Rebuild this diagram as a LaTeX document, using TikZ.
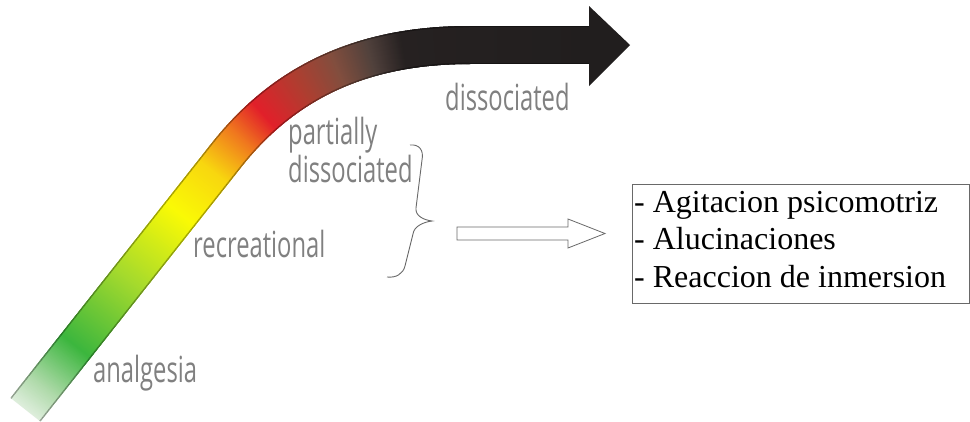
\documentclass[tikz,border=0pt]{standalone}
\usepackage{fontspec}
\setmainfont{Liberation Serif}
\newfontfamily\lblfont[FakeStretch=0.66]{Open Sans}
\usetikzlibrary{decorations.markings,calc}
\definecolor{k0}{RGB}{222,238,220}
\definecolor{k1}{RGB}{175,218,170}
\definecolor{k2}{RGB}{60,182,62}
\definecolor{k3}{RGB}{165,218,45}
\definecolor{k4}{RGB}{250,250,5}
\definecolor{k5}{RGB}{248,215,15}
\definecolor{k6}{RGB}{240,120,30}
\definecolor{k7}{RGB}{226,32,42}
\definecolor{k8}{RGB}{175,62,48}
\definecolor{k9}{RGB}{130,78,62}
\definecolor{k10}{RGB}{80,65,60}
\definecolor{k11}{RGB}{38,33,33}
\definecolor{k12}{RGB}{33,30,30}
\definecolor{lblgray}{RGB}{128,128,128}
\definecolor{linegray}{RGB}{105,105,105}
\newcommand\mixstop[4]{\pgfmathsetmacro\bandpct{max(0,min(100,100*(\bandpos-#1)/(#2-#1)))}\colorlet{bandc}{#4!\bandpct!#3}}
\newcommand\setbandcolor{%
 \ifdim\bandpos pt<0.04pt \mixstop{0}{0.04}{k0}{k1}\else
 \ifdim\bandpos pt<0.112pt \mixstop{0.04}{0.112}{k1}{k2}\else
 \ifdim\bandpos pt<0.23pt \mixstop{0.112}{0.23}{k2}{k3}\else
 \ifdim\bandpos pt<0.345pt \mixstop{0.23}{0.345}{k3}{k4}\else
 \ifdim\bandpos pt<0.42pt \mixstop{0.345}{0.42}{k4}{k5}\else
 \ifdim\bandpos pt<0.48pt \mixstop{0.42}{0.48}{k5}{k6}\else
 \ifdim\bandpos pt<0.525pt \mixstop{0.48}{0.525}{k6}{k7}\else
 \ifdim\bandpos pt<0.59pt \mixstop{0.525}{0.59}{k7}{k8}\else
 \ifdim\bandpos pt<0.645pt \mixstop{0.59}{0.645}{k8}{k9}\else
 \ifdim\bandpos pt<0.695pt \mixstop{0.645}{0.695}{k9}{k10}\else
 \ifdim\bandpos pt<0.74pt \mixstop{0.695}{0.74}{k10}{k11}\else
 \mixstop{0.74}{1}{k11}{k12}%
 \fi\fi\fi\fi\fi\fi\fi\fi\fi\fi\fi}
\newcommand\bandpiece{%
 \pgfmathsetmacro\bandpos{\pgfkeysvalueof{/pgf/decoration/mark info/distance from start}/\pgfdecoratedpathlength}%
 \setbandcolor
 \fill[bandc] (-0.9,-19) rectangle (0.9,19);
 \fill[bandc!62!black] (-0.9,-19) rectangle (0.9,-17.8);
 \fill[bandc!62!black] (-0.9,17.8) rectangle (0.9,19);
}
\tikzset{
 bandmark/.style={decorate,decoration={markings,mark=between positions 0 and 1 step 1pt with {\bandpiece}}},
 lbl/.style={font=\lblfont\fontsize{36}{30}\selectfont, text=lblgray, inner sep=0pt, anchor=base west},
 thinline/.style={draw=linegray, line width=0.9pt},
}
\begin{document}
\begin{tikzpicture}[x=1pt,y=-1pt]
\useasboundingbox (0,0) rectangle (970,421);
\clip (0,0) rectangle (970,421);
\fill[white] (0,0) rectangle (970,421);
% gradient band
\coordinate (p0) at (26,409);
\coordinate (p1) at (226.6,155);
\coordinate (c1) at (288.6,76.5);
\coordinate (c2) at (370,45);
\coordinate (p2) at (470,45);
\coordinate (p3) at (590,45);
\path[bandmark] (p0) -- (p1) .. controls (c1) and (c2) .. (p2) -- (p3);
\coordinate (h1) at (589,6);
\coordinate (htip) at (630,45);
\coordinate (h2) at (589,86);
\fill[k12] (h1) -- (htip) -- (h2) -- cycle;
% labels
\node[lbl] (analg) at (93,382) {analgesia};
\node[lbl] (recr) at (193,257) {recreational};
\node[lbl] (partA) at (288,144) {partially};
\node[lbl] (partB) at (288,182) {dissociated};
\node[lbl] (diss) at (445,110) {dissociated};
% brace
\coordinate (btop) at (410,145);
\coordinate (btip) at (432,221);
\coordinate (bbot) at (387,277);
\draw[thinline] (btop) .. controls (419,144) and (424,150) .. (422,160)
  -- (416,208) .. controls (415,216) and (424,220) .. (btip)
  .. controls (424,222) and (414,226) .. (413,234)
  -- (405,266) .. controls (403,274) and (396,278) .. (bbot);
% hollow arrow
\coordinate (aS) at (457,233.5);
\coordinate (aT) at (605,233.5);
\draw[thinline, line width=0.8pt, line join=miter] ($(aS)+(0,-6.5)$) -- (568,227) -- (568,219) -- (aT) -- (568,248) -- (568,240) -- ($(aS)+(0,6.5)$) -- cycle;
% box
\node[draw=linegray, line width=0.9pt, minimum width=337pt, minimum height=119pt, inner sep=0pt, anchor=north west] (box) at (632,184) {};
\node[font=\fontsize{32}{37.5}\selectfont, align=left, inner sep=0pt, anchor=north west] (boxtxt) at (634,191) {- Agitacion psicomotriz\\- Alucinaciones\\- Reaccion de inmersion};
\end{tikzpicture}
\end{document}
